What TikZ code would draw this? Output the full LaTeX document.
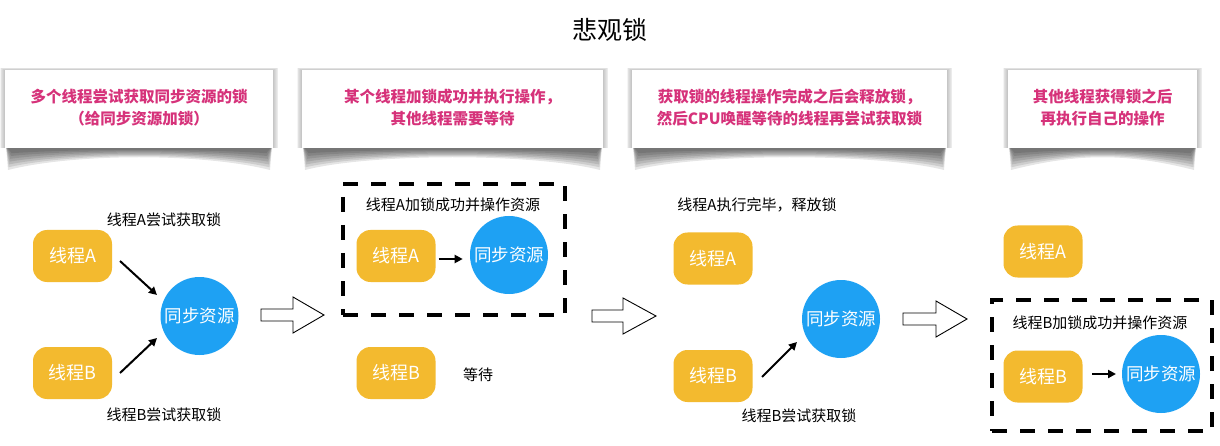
\documentclass[tikz,border=0pt]{standalone}
\usepackage{fontspec}
\newfontfamily\cjk{Noto Sans CJK SC}
\usetikzlibrary{arrows.meta}
\definecolor{thr}{RGB}{243,186,47}
\definecolor{res}{RGB}{30,161,243}
\definecolor{pinkt}{RGB}{214,50,122}
\newcommand\mycard[5]{% x1 x2 name line1 line2
  \foreach \i in {1,...,6}{
    \fill[black,opacity=0.04] (#1-\i*0.9,70-\i*0.4) rectangle (#2+\i*0.9,148);
  }
  \foreach \i in {0,...,6}{
    \fill[black,opacity=0.1] (#1+1,146) -- (#1+3+\i*0.6,170-\i*2.8) .. controls (#1+70,153-\i*0.7) and (#2-70,153-\i*0.7) .. (#2-3-\i*0.6,170-\i*2.8) -- (#2-1,146) -- cycle;
  }
  \node[cardbox, minimum width=#2-#1] (#3) at ({(#1+#2)/2},109) {};
  \node[cardtxt] at ({(#1+#2)/2},97) {#4};
  \node[cardtxt] at ({(#1+#2)/2},119) {#5};
}
\newcommand\hollow[4]{% xleft xheadstart xtip ycenter
  \draw[line width=0.9pt, fill=white, line join=miter] (#1,#4-6) -- (#2,#4-6) -- (#2,#4-18) -- (#3,#4) -- (#2,#4+18) -- (#2,#4+6) -- (#1,#4+6) -- cycle;
}
\begin{document}
\begin{tikzpicture}[x=1pt,y=-1pt,
  thread/.style={rounded corners=14pt, fill=thr, minimum width=79pt, minimum height=52pt, text=white, font=\cjk\fontsize{18}{21}\selectfont, inner sep=0pt},
  resc/.style={circle, fill=res, minimum size=78pt, text=white, font=\cjk\fontsize{17.5}{21}\selectfont, inner sep=0pt},
  lbl/.style={font=\cjk\fontsize{15}{18}\selectfont, inner sep=0pt},
  cardbox/.style={fill=white, minimum height=78pt, inner sep=0pt},
  cardtxt/.style={text=pinkt, font=\cjk\bfseries\fontsize{15.5}{18}\selectfont, inner sep=0pt},
  frame/.style={draw=black, line width=4pt, dash pattern=on 15pt off 13pt, inner sep=0pt},
  arr/.style={-{Triangle[length=8pt,width=8pt]}, line width=2pt, shorten >=0pt},
]
\useasboundingbox[fill=white] (0,0) rectangle (1220,446);
\node[font=\cjk\fontsize{25}{29}\selectfont] (title) at (610,30) {悲观锁};

\mycard{5}{273}{c1}{多个线程尝试获取同步资源的锁}{（给同步资源加锁）}
\mycard{302}{603}{c2}{某个线程加锁成功并执行操作，}{其他线程需要等待}
\mycard{632}{947}{c3}{获取锁的线程操作完成之后会释放锁，}{然后CPU唤醒等待的线程再尝试获取锁}
\mycard{1008}{1197}{c4}{其他线程获得锁之后}{再执行自己的操作}

% panel 1
\node[lbl] (l1a) at (164,220) {线程A尝试获取锁};
\node[thread] (a1) at (72.5,256) {线程A};
\node[thread] (b1) at (72.5,373) {线程B};
\node[resc] (r1) at (199.5,316) {同步资源};
\node[lbl] (l1b) at (164,415) {线程B尝试获取锁};
\coordinate (a1s) at (120,261);
\coordinate (a1e) at (157,295);
\coordinate (b1s) at (120,373);
\coordinate (b1e) at (157,338);
\draw[arr] (a1s) -- (a1e);
\draw[arr] (b1s) -- (b1e);

\hollow{261}{293}{324}{315}

% panel 2
\node[frame, minimum width=222pt, minimum height=131pt] (f2) at (454,249.5) {};
\node[lbl] (l2) at (453,205) {线程A加锁成功并操作资源};
\node[thread] (a2) at (396,256) {线程A};
\node[resc] (r2) at (509,255) {同步资源};
\draw[arr] (a2.east) ++(3,3) -- ++(24,0);
\node[thread] (b2) at (396,373) {线程B};
\node[lbl] (w2) at (478,375) {等待};

\hollow{592}{623}{656}{316}

% panel 3
\node[lbl] (l3) at (757,205) {线程A执行完毕，释放锁};
\node[thread] (a3) at (713,258.5) {线程A};
\node[thread] (b3) at (713,376) {线程B};
\node[resc] (r3) at (841,319) {同步资源};
\coordinate (b3s) at (762,377);
\coordinate (b3e) at (797,342);
\draw[arr] (b3s) -- (b3e);
\node[lbl] (l3b) at (799,416) {线程B尝试获取锁};

\hollow{903}{936}{967}{319}

% panel 4
\node[thread] (a4) at (1043,251.5) {线程A};
\node[frame, minimum width=220pt, minimum height=131pt] (f4) at (1102,365.5) {};
\node[lbl] (l4) at (1100,323) {线程B加锁成功并操作资源};
\node[thread] (b4) at (1043,376.5) {线程B};
\node[resc] (r4) at (1161,374) {同步资源};
\coordinate (b4s) at (1092,374);
\coordinate (b4e) at (1116,374);
\draw[arr] (b4s) -- (b4e);
\end{tikzpicture}
\end{document}
